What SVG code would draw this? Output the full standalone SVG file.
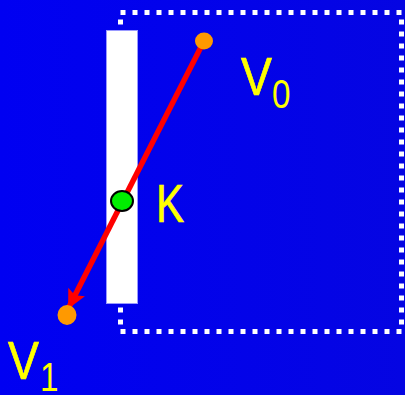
<svg xmlns="http://www.w3.org/2000/svg" width="405" height="395" viewBox="0 0 405 395">
<style>
.lbl{font-family:"Liberation Sans",Arial,sans-serif;fill:#FFFF00;stroke:#FFFF00}
.pt{fill:#FF9900}
</style>
<defs>
<linearGradient id="bg" x1="0" y1="0" x2="1" y2="0">
<stop offset="0" stop-color="#0000F2"/>
<stop offset="1" stop-color="#0505E2"/>
</linearGradient>
<marker id="ah" viewBox="0 0 10 10" refX="9" refY="5" markerWidth="3.4" markerHeight="3.4" orient="auto" markerUnits="strokeWidth">
<path d="M0,0 L10,5 L0,10 L2,5 Z" fill="#FF0000"/>
</marker>
</defs>
<rect width="405" height="395" fill="url(#bg)"/>
<g id="frame">
<path d="M120.5,12.5 H401.5 V331.5 H120.5 Z" fill="none" stroke="#FFFFFF" stroke-width="5" stroke-dasharray="5 7"/>
</g>
<g id="bar">
<rect x="106.5" y="30.5" width="31" height="273" fill="#FFFFFF" stroke="#9999FF" stroke-width="1"/>
</g>
<g id="connectors">
<line x1="204" y1="41" x2="69" y2="307" stroke="#FF0000" stroke-width="5.5" marker-end="url(#ah)"/>
</g>
<g id="V0">
<ellipse class="pt" cx="204" cy="41" rx="9" ry="8.5"/>
<text class="lbl" transform="translate(241,95) scale(0.86,1)" font-size="54" stroke-width="0.7">V</text>
<text class="lbl" transform="translate(272,107.5) scale(0.9,1.1)" font-size="37" stroke-width="0">0</text>
</g>
<g id="V1">
<ellipse class="pt" cx="67" cy="315" rx="9.5" ry="10"/>
<text class="lbl" transform="translate(8,379) scale(0.86,1)" font-size="54" stroke-width="0.7">V</text>
<text class="lbl" transform="translate(40,391) scale(0.9,1.1)" font-size="37" stroke-width="0">1</text>
</g>
<g id="K">
<ellipse cx="122" cy="201" rx="11" ry="10" fill="#00EE00" stroke="#000000" stroke-width="2"/>
<text class="lbl" transform="translate(156,222) scale(0.78,1)" font-size="54" stroke-width="0.7">K</text>
</g>
</svg>
